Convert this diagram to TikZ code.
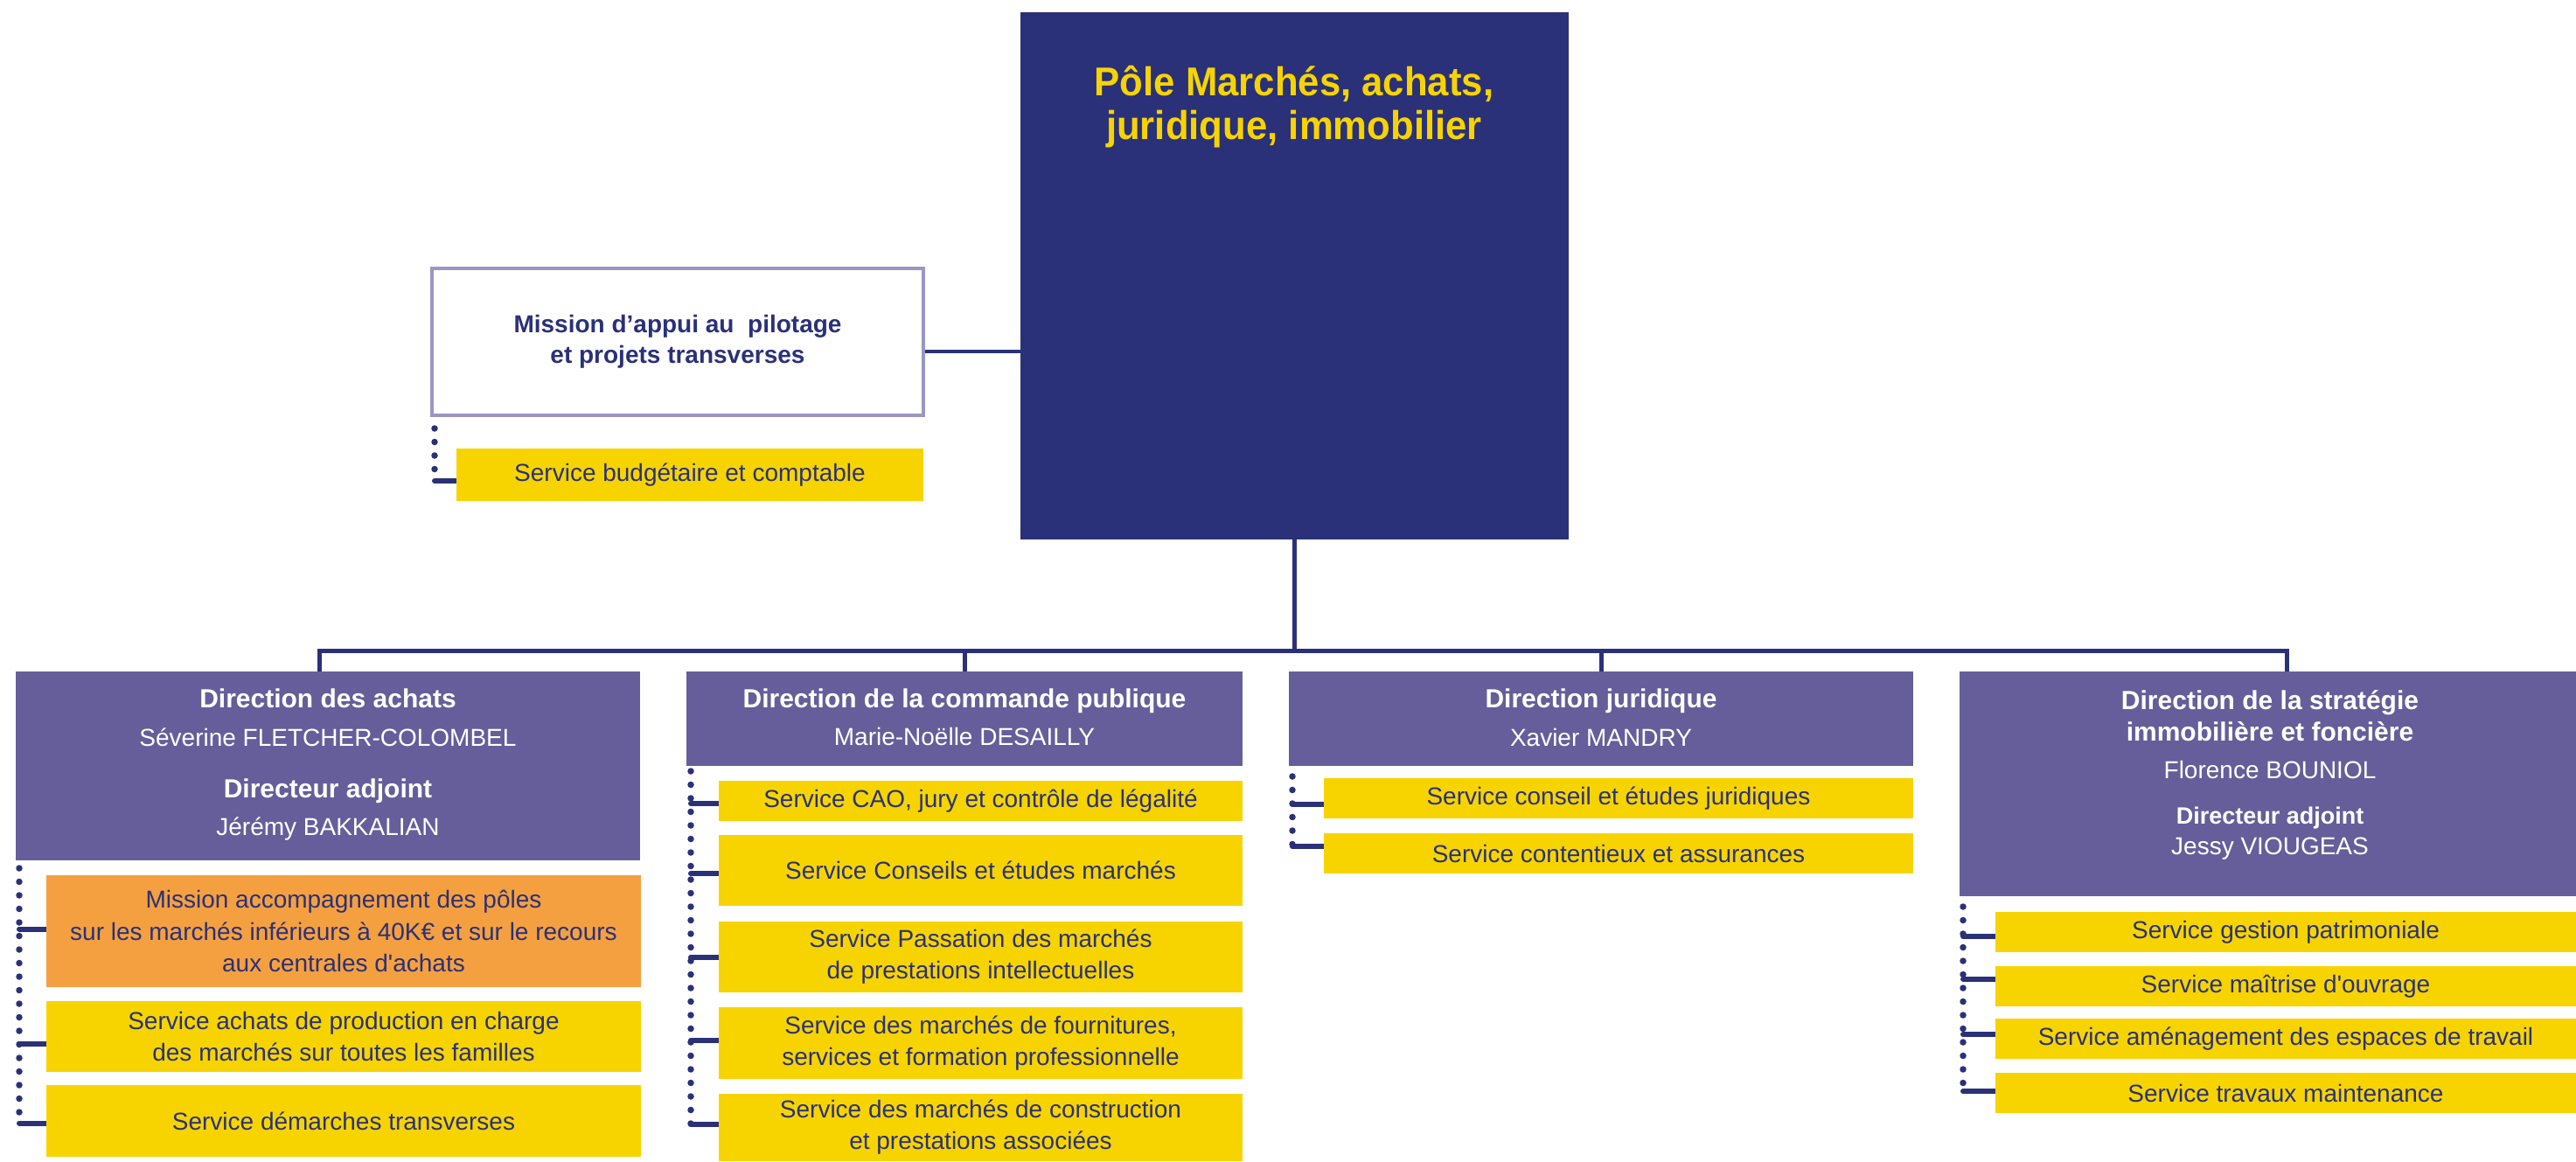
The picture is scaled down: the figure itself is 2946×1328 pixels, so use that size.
\documentclass[tikz,border=0pt]{standalone}
\usepackage{fontspec}
\setmainfont{Liberation Sans}
\newfontfamily\titlefont[FakeStretch=0.95]{Liberation Sans}
\definecolor{navy}{RGB}{42,49,120}
\definecolor{purp}{RGB}{101,94,154}
\definecolor{yel}{RGB}{247,212,0}
\definecolor{orng}{RGB}{245,160,64}
\definecolor{lilac}{RGB}{155,150,196}
\pgfdeclarelayer{bg}
\pgfsetlayers{bg,main}
\begin{document}
\begin{tikzpicture}[x=1pt,y=-1pt,
  box/.style={inner sep=0pt, outer sep=0pt, anchor=north west, draw=none},
  hdr/.style={box, fill=purp},
  svc/.style={box, fill=yel, text=navy, align=center, font=\fontsize{28}{36}\selectfont},
  msn/.style={box, fill=orng, text=navy, align=center, font=\fontsize{28}{36.5}\selectfont},
  htitle/.style={anchor=base, inner sep=0pt, text=white, font=\fontsize{30}{36}\selectfont\bfseries},
  hname/.style={anchor=base, inner sep=0pt, text=white, font=\fontsize{28}{34}\selectfont},
  conn/.style={draw=navy, line width=5pt},
  dotline/.style={draw=navy, line width=7.5pt, line cap=round, dash pattern=on 0pt off 15.5pt},
  stub/.style={draw=navy, line width=6pt, line cap=round},
]
\useasboundingbox (0,0) rectangle (2946,1328);

% ---- top pole
\node[box, fill=navy, minimum width=627pt, minimum height=603pt] (pole) at (1167,14) {};
\node[anchor=base, inner sep=0pt, text=yel, font=\titlefont\fontsize{46}{50}\selectfont\bfseries] (pt1) at (1480,109) {Pôle Marchés, achats,};
\node[anchor=base, inner sep=0pt, text=yel, font=\titlefont\fontsize{46}{50}\selectfont\bfseries] (pt2) at (1480,159) {juridique, immobilier};

% ---- mission d'appui
\node[box, fill=white, draw=lilac, line width=3.5pt, minimum width=562pt, minimum height=168pt, text=navy, align=center, font=\fontsize{28}{35}\selectfont\bfseries] (mis) at (494,307) {Mission d'appui au~ pilotage\\et projets transverses};
\node[svc, minimum width=534pt, minimum height=60pt] (bud) at (522,513) {\raisebox{-3pt}{Service budgétaire et comptable}};

% ---- Direction des achats
\node[hdr, minimum width=714pt, minimum height=216pt] (d1) at (18,768) {};
\node[htitle] (d1a) at (375,809) {Direction des achats};
\node[hname] (d1b) at (375,853) {Séverine FLETCHER-COLOMBEL};
\node[htitle] (d1c) at (375,912) {Directeur adjoint};
\node[hname] (d1d) at (375,955) {Jérémy BAKKALIAN};
\node[msn, minimum width=680pt, minimum height=128pt] (c11) at (53,1001) {Mission accompagnement des pôles\\sur les marchés inférieurs à 40K€ et sur le recours\\aux centrales d\textquotesingle achats};
\node[svc, minimum width=680pt, minimum height=81pt] (c12) at (53,1145) {Service achats de production en charge\\des marchés sur toutes les familles};
\node[svc, minimum width=680pt, minimum height=82pt] (c13) at (53,1241) {Service démarches transverses};

% ---- Direction de la commande publique
\node[hdr, minimum width=636pt, minimum height=108pt] (d2) at (785,768) {};
\node[htitle] (d2a) at (1103,809) {Direction de la commande publique};
\node[hname] (d2b) at (1103,852) {Marie-Noëlle DESAILLY};
\node[svc, minimum width=599pt, minimum height=46pt] (c21) at (822,893) {Service CAO, jury et contrôle de légalité};
\node[svc, minimum width=599pt, minimum height=81pt] (c22) at (822,955) {Service Conseils et études marchés};
\node[svc, minimum width=599pt, minimum height=81pt] (c23) at (822,1054) {Service Passation des marchés\\de prestations intellectuelles};
\node[svc, minimum width=599pt, minimum height=82pt] (c24) at (822,1152) {Service des marchés de fournitures,\\services et formation professionnelle};
\node[svc, minimum width=599pt, minimum height=77pt] (c25) at (822,1251) {Service des marchés de construction\\et prestations associées};

% ---- Direction juridique
\node[hdr, minimum width=714pt, minimum height=108pt] (d3) at (1474,768) {};
\node[htitle] (d3a) at (1831,809) {Direction juridique};
\node[hname] (d3b) at (1831,853) {Xavier MANDRY};
\node[svc, minimum width=674pt, minimum height=46pt] (c31) at (1514,890) {Service conseil et études juridiques};
\node[svc, minimum width=674pt, minimum height=46pt] (c32) at (1514,953) {Service contentieux et assurances};

% ---- Direction de la stratégie immobilière
\node[hdr, minimum width=705pt, minimum height=257pt] (d4) at (2241,768) {};
\node[htitle] (d4a) at (2596,811) {Direction de la stratégie};
\node[htitle] (d4b) at (2596,847) {immobilière et foncière};
\node[hname] (d4c) at (2596,890) {Florence BOUNIOL};
\node[htitle, font=\fontsize{27}{32}\selectfont\bfseries] (d4d) at (2596,942) {Directeur adjoint};
\node[hname] (d4e) at (2596,977) {Jessy VIOUGEAS};
\node[svc, minimum width=664pt, minimum height=46pt] (c41) at (2282,1043) {Service gestion patrimoniale};
\node[svc, minimum width=664pt, minimum height=46pt] (c42) at (2282,1105) {Service maîtrise d\textquotesingle ouvrage};
\node[svc, minimum width=664pt, minimum height=46pt] (c43) at (2282,1165) {Service aménagement des espaces de travail};
\node[svc, minimum width=664pt, minimum height=46pt] (c44) at (2282,1227) {Service travaux maintenance};

% ---- connectors
\begin{pgfonlayer}{bg}
\coordinate (busL) at (365,744);
\coordinate (busR) at (2615,744);
\draw[conn] (d1.north -| busL) -- (busL) -- (busR) -- (d4.north -| busR);
\draw[conn, line width=4.5pt] (pole.south) -- (pole.south |- busL);
\draw[conn] (d2.north) -- (d2.north |- busL);
\draw[conn] (d3.north) -- (d3.north |- busL);
\draw[conn, line width=4.5pt] ([yshift=-11pt]mis.east) -- ([yshift=-11pt]mis.east -| pole.west);

% mission d'appui
\coordinate (mdot) at ([xshift=3pt,yshift=-15pt]mis.south west);
\coordinate (budS) at ([yshift=-7pt]bud.west);
\draw[dotline] (mdot) -- (mdot |- budS);
\draw[stub] (mdot |- budS) -- (budS);

% achats
\coordinate (d1dot) at ([xshift=4pt,yshift=-9pt]d1.south west);
\coordinate (s11) at ([yshift=2.5pt]c11.west);
\coordinate (s12) at ([yshift=-8pt]c12.west);
\coordinate (s13) at ([yshift=-2.5pt]c13.west);
\draw[dotline] (d1dot) -- (d1dot |- s13);
\foreach \s in {s11,s12,s13} \draw[stub] (d1dot |- \s) -- (\s);

% commande publique
\coordinate (d2dot) at ([xshift=5pt,yshift=-6pt]d2.south west);
\coordinate (s21) at ([yshift=-3pt]c21.west);
\coordinate (s22) at ([yshift=-3.5pt]c22.west);
\coordinate (s23) at (c23.west);
\coordinate (s24) at ([yshift=3pt]c24.west);
\coordinate (s25) at ([yshift=3.5pt]c25.west);
\draw[dotline] (d2dot) -- (d2dot |- s25);
\foreach \s in {s21,s22,s23,s24,s25} \draw[stub] (d2dot |- \s) -- (\s);

% juridique
\coordinate (d3dot) at ([xshift=4pt,yshift=-12pt]d3.south west);
\coordinate (s31) at ([yshift=-7pt]c31.west);
\coordinate (s32) at ([yshift=8pt]c32.west);
\draw[dotline] (d3dot) -- (d3dot |- s32);
\foreach \s in {s31,s32} \draw[stub] (d3dot |- \s) -- (\s);

% strategie immobiliere
\coordinate (d4dot) at ([xshift=4pt,yshift=-12pt]d4.south west);
\coordinate (s41) at ([yshift=-5pt]c41.west);
\coordinate (s42) at ([yshift=8.5pt]c42.west);
\coordinate (s43) at ([yshift=5pt]c43.west);
\coordinate (s44) at ([yshift=2pt]c44.west);
\draw[dotline] (d4dot) -- (d4dot |- s44);
\foreach \s in {s41,s42,s43,s44} \draw[stub] (d4dot |- \s) -- (\s);
\end{pgfonlayer}
\end{tikzpicture}
\end{document}
